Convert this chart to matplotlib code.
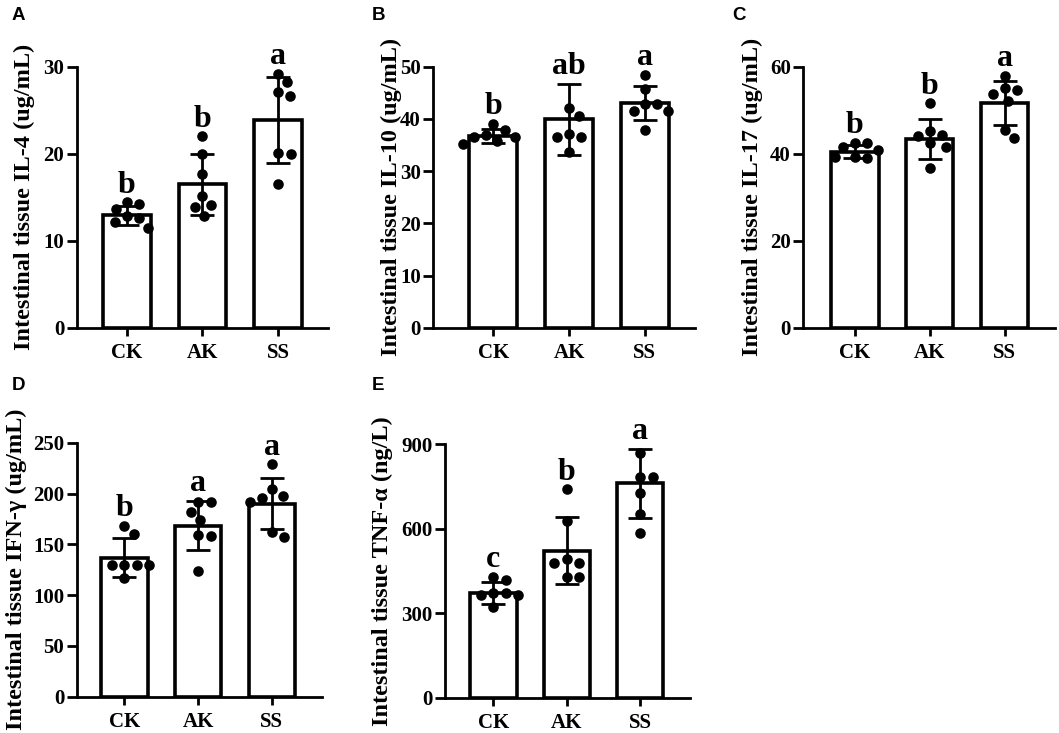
import numpy as np
import matplotlib
matplotlib.use('Agg')
import matplotlib.pyplot as plt

groups = ['CK', 'AK', 'SS']

# A: IL-4
il4_mean = [12.9, 16.5, 23.9]
il4_sd = [1.1, 3.5, 4.95]
il4_dots = [[13.7, 14.4, 14.2, 11.5, 12.6, 12.2, 12.8],
            [22.0, 20.0, 17.7, 12.8, 14.1, 15.1, 13.9],
            [29.2, 28.2, 27.1, 26.6, 20.0, 20.1, 16.5]]
il4_letters = ['b', 'b', 'a']

# B: IL-10
il10_mean = [36.7, 39.9, 43.0]
il10_sd = [1.4, 6.8, 3.25]
il10_dots = [[39.0, 35.8, 36.6, 37.0, 36.5, 37.9, 35.2],
             [42.0, 40.5, 37.2, 36.5, 36.5, 33.7],
             [48.4, 45.7, 42.8, 41.5, 41.5, 42.8, 37.9]]
il10_letters = ['b', 'ab', 'a']

# C: IL-17
il17_mean = [40.5, 43.3, 51.6]
il17_sd = [1.6, 4.6, 5.1]
il17_dots = [[41.6, 38.9, 40.8, 42.5, 42.5, 39.3, 39.3],
             [51.6, 45.3, 44.1, 44.3, 42.4, 41.6, 36.6],
             [57.9, 54.6, 55.0, 53.7, 52.2, 43.5, 45.4]]
il17_letters = ['b', 'b', 'a']

# D: IFN-gamma
ifn_mean = [137.0, 168.5, 190.0]
ifn_sd = [19.0, 24.0, 25.0]
ifn_dots = [[168, 160, 129.6, 129.6, 129.6, 129.6, 116.5],
            [182, 192, 192, 174, 158.5, 159, 124],
            [228.7, 204, 196, 198, 191.9, 157.5, 161.7]]
ifn_letters = ['b', 'a', 'a']

# E: TNF-alpha
tnf_mean = [372, 522, 760]
tnf_sd = [40, 118, 123]
tnf_dots = [[429, 417.5, 364, 372.5, 372.5, 364, 323],
            [739, 628, 491, 479, 479, 427, 427],
            [867, 784, 782, 727, 651.6, 585]]
tnf_letters = ['c', 'b', 'a']

W, H = 1059, 733
fig = plt.figure(figsize=(W / 100, H / 100), dpi=100)

serif = 'Liberation Serif'
sans = 'Liberation Sans'

# (label, ylabel, mean, sd, dots, letters, ymax, step, left, right, bottom, top, xlim, label_x)
panels = [
    ('A', 'Intestinal tissue IL-4 (ug/mL)', il4_mean, il4_sd, il4_dots, il4_letters,
     30, 10, 76.7, 328, 327.7, 66.7, (-0.66, 2.66), -0.166),
    ('B', 'Intestinal tissue IL-10 (ug/mL)', il10_mean, il10_sd, il10_dots, il10_letters,
     50, 10, 433.3, 695, 327.7, 66.7, (-0.79, 2.66), -0.121),
    ('C', 'Intestinal tissue IL-17 (ug/mL)', il17_mean, il17_sd, il17_dots, il17_letters,
     60, 20, 803.3, 1055, 327.7, 66.7, (-0.69, 2.67), -0.159),
    ('D', 'Intestinal tissue IFN-\u03b3 (ug/mL)', ifn_mean, ifn_sd, ifn_dots, ifn_letters,
     250, 50, 76.7, 321.7, 696.7, 442.7, (-0.645, 2.676), -0.203),
    ('E', 'Intestinal tissue TNF-\u03b1 (ng/L)', tnf_mean, tnf_sd, tnf_dots, tnf_letters,
     900, 300, 445, 690, 697.7, 444, (-0.66, 2.68), -0.211),
]


def swarm_offsets(ax, xc, vals, diam):
    # simple beeswarm in pixel space
    order = np.argsort(vals)[::-1]
    placed = []
    offs = np.zeros(len(vals))
    cx, _ = ax.transData.transform((xc, 0))
    for i in order:
        _, py = ax.transData.transform((xc, vals[i]))
        best = None
        for s in np.arange(0, 60, 0.5):
            for cand in (s, -s):
                ok = all((cand - px) ** 2 + (py - qy) ** 2 >= diam ** 2 for px, qy in placed)
                if ok:
                    best = cand
                    break
            if best is not None:
                break
        placed.append((best, py))
        offs[i] = best
    inv = ax.transData.inverted()
    return [inv.transform((cx + o, 0))[0] for o in offs]


for (lab, ylab, mean, sd, dots, letters, ymax, step, l, r, b, t, xlim, lx) in panels:
    ax = fig.add_axes([l / W, (H - b) / H, (r - l) / W, (b - t) / H])
    ax.set_xlim(*xlim)
    ax.set_ylim(0, ymax)
    x = np.arange(len(groups))
    ax.bar(x, mean, width=0.63, color='white', edgecolor='black', linewidth=2.6, zorder=2)
    ax.errorbar(x, mean, yerr=sd, fmt='none', ecolor='black', elinewidth=2.0,
                capsize=8.5, capthick=2.0, zorder=3)
    for i in range(len(groups)):
        xs = swarm_offsets(ax, x[i], dots[i], 12.5)
        ax.scatter(xs, dots[i], s=58, color='black', zorder=4, clip_on=False, linewidths=0)
        top = max(mean[i] + sd[i], max(dots[i]))
        ax.annotate(letters[i], (x[i], top), xytext=(0, 7), textcoords='offset points',
                    ha='center', va='baseline', fontsize=23, fontweight='bold',
                    family=serif, annotation_clip=False)

    for side in ('top', 'right'):
        ax.spines[side].set_visible(False)
    ax.spines['left'].set_linewidth(2.0)
    ax.spines['bottom'].set_linewidth(2.0)
    ax.set_yticks(np.arange(0, ymax + 1, step))
    ax.set_xticks(x)
    ax.set_xticklabels(groups)
    ax.tick_params(axis='y', length=7, width=2.0, pad=2, labelsize=15)
    ax.tick_params(axis='x', length=6, width=2.0, pad=5, labelsize=15)
    for tl in ax.get_xticklabels() + ax.get_yticklabels():
        tl.set_fontfamily(serif)
        tl.set_fontweight('bold')
    ax.set_ylabel(ylab, fontsize=17.5, fontweight='bold', family=serif)
    ax.yaxis.set_label_coords(lx, 0.5)
    ax.patch.set_alpha(0)

    fx = {'A': 12, 'B': 372, 'C': 732, 'D': 12, 'E': 372}[lab] / W
    fy = 1 - (7 if lab in 'ABC' else 377) / H
    fig.text(fx, fy, lab, fontsize=13.5, fontweight='bold', family=sans, ha='left', va='top')

fig.savefig('out.png', dpi=100)
